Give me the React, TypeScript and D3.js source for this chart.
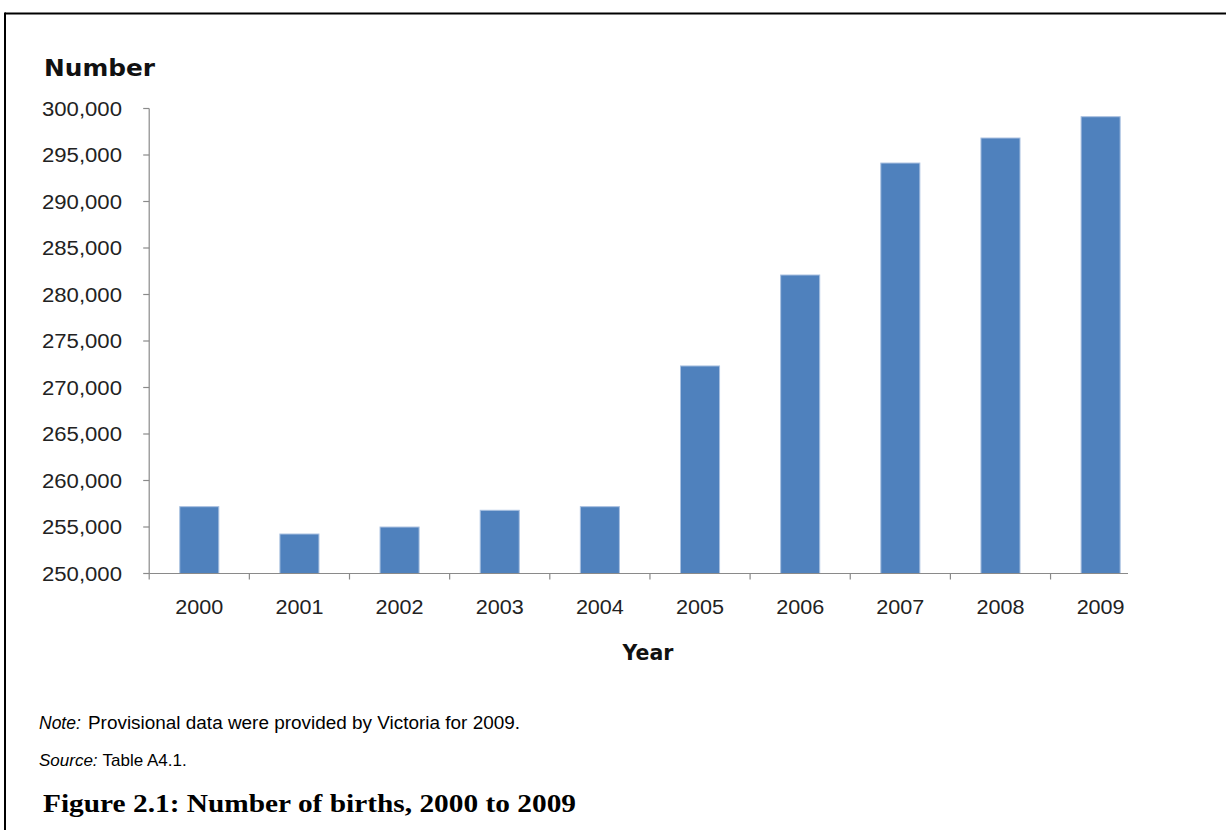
import React from 'react';
import * as d3 from 'd3';

// Births per year
const years: string[] = ['2000', '2001', '2002', '2003', '2004', '2005', '2006', '2007', '2008', '2009'];
const births: number[] = [257240, 254300, 255050, 256850, 257240, 272370, 282150, 294190, 296880, 299170];

// Value axis ticks
const yTickValues: number[] = [250000, 255000, 260000, 265000, 270000, 275000, 280000, 285000, 290000, 295000, 300000];

const yTitle = 'Number';
const xTitle = 'Year';
const noteLabel = 'Note:';
const noteText = 'Provisional data were provided by Victoria for 2009.';
const sourceLabel = 'Source:';
const sourceText = 'Table A4.1.';
const caption = 'Figure 2.1: Number of births, 2000 to 2009';

const W = 1226;
const H = 830;

export default function App() {
  const plotLeft = 149.2;
  const plotBottom = 573.5;
  const plotTop = 108.5;
  const axisEnd = 1128;

  const y = d3.scaleLinear().domain([250000, 300000]).range([plotBottom, plotTop]);
  const x = d3
    .scaleBand<string>()
    .domain(years)
    .range([plotLeft, 1150.7])
    .paddingInner(0.6)
    .paddingOuter(0.3);

  const fmt = d3.format(',');
  const step = x.step();
  const axisColor = '#8a8a8a';
  const sans = '"Liberation Sans", Arial, sans-serif';
  const boldSans = '"DejaVu Sans", Verdana, sans-serif';

  // boundaries between categories for the tick marks under the axis
  const boundaries = d3.range(0, years.length).map((i) => plotLeft + i * step);

  return (
    <svg
      width={W}
      height={H}
      viewBox={`0 0 ${W} ${H}`}
      style={{ position: 'absolute', left: 0, top: 0, background: '#fff' }}
    >
      <rect x={0} y={0} width={W} height={H} fill="#fff" />

      {/* frame */}
      <line x1={5} y1={13.5} x2={W} y2={13.5} stroke="#000" strokeWidth={2} />
      <line x1={5} y1={12.5} x2={5} y2={H} stroke="#000" strokeWidth={2} />

      {/* y title */}
      <text
        x={44}
        y={76}
        fontFamily={boldSans}
        fontWeight="bold"
        fontSize={23}
        textLength={111}
        lengthAdjust="spacingAndGlyphs"
        fill="#111"
      >
        {yTitle}
      </text>

      {/* bars */}
      {years.map((yr, i) => {
        const bx = x(yr) as number;
        const by = y(births[i]);
        return (
          <rect
            key={yr}
            x={bx + 0.5}
            y={by + 0.5}
            width={x.bandwidth() - 1}
            height={plotBottom - by - 0.5}
            fill="#4F81BD"
            stroke="#A9C0E0"
            strokeWidth={1}
          />
        );
      })}

      {/* y axis */}
      <line x1={plotLeft} y1={plotTop} x2={plotLeft} y2={plotBottom + 6} stroke={axisColor} strokeWidth={1.2} />
      {yTickValues.map((v) => (
        <g key={v}>
          <line x1={plotLeft - 6} x2={plotLeft} y1={y(v)} y2={y(v)} stroke={axisColor} strokeWidth={1.2} />
          <text
            x={122}
            y={y(v) + 7}
            textAnchor="end"
            fontFamily={sans}
            fontSize={19.5}
            textLength={80}
            lengthAdjust="spacingAndGlyphs"
            fill="#222"
          >
            {fmt(v)}
          </text>
        </g>
      ))}

      {/* x axis */}
      <line x1={plotLeft} y1={plotBottom} x2={axisEnd} y2={plotBottom} stroke={axisColor} strokeWidth={1.2} />
      {boundaries.slice(1).map((bx, i) => (
        <line key={i} x1={bx} x2={bx} y1={plotBottom} y2={plotBottom + 6} stroke={axisColor} strokeWidth={1.2} />
      ))}
      {years.map((yr) => (
        <text
          key={yr}
          x={(x(yr) as number) + x.bandwidth() / 2}
          y={614}
          textAnchor="middle"
          fontFamily={sans}
          fontSize={19.5}
          textLength={48}
          lengthAdjust="spacingAndGlyphs"
          fill="#222"
        >
          {yr}
        </text>
      ))}

      {/* x title */}
      <text
        x={648}
        y={660}
        textAnchor="middle"
        fontFamily={boldSans}
        fontWeight="bold"
        fontSize={20.5}
        fill="#111"
      >
        {xTitle}
      </text>

      {/* notes */}
      <text x={39} y={729} fontFamily={sans} fontSize={17.5} fontStyle="italic" fill="#000">
        {noteLabel}
      </text>
      <text
        x={88}
        y={729}
        fontFamily={sans}
        fontSize={17.5}
        textLength={432}
        lengthAdjust="spacingAndGlyphs"
        fill="#000"
      >
        {noteText}
      </text>
      <text x={39} y={766} fontFamily={sans} fontSize={17} fill="#000">
        <tspan fontStyle="italic">{sourceLabel}</tspan>
        <tspan dx={5}>{sourceText}</tspan>
      </text>

      {/* caption */}
      <text
        x={43}
        y={812}
        fontFamily='"Liberation Serif", "DejaVu Serif", serif'
        fontWeight="bold"
        fontSize={25}
        textLength={533}
        lengthAdjust="spacingAndGlyphs"
        fill="#000"
      >
        {caption}
      </text>
    </svg>
  );
}
